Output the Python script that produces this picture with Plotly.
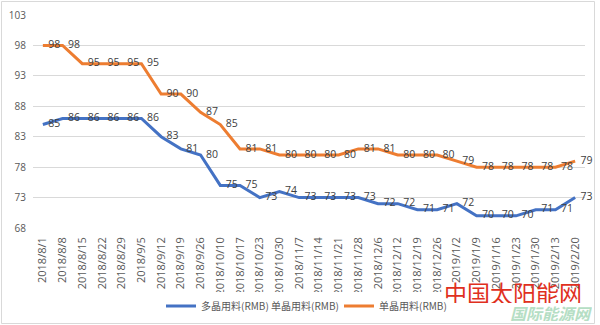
import plotly.graph_objects as go

# Weekly dates (category axis)
dates = [
    "2018/8/1", "2018/8/8", "2018/8/15", "2018/8/22", "2018/8/29", "2018/9/5",
    "2018/9/12", "2018/9/19", "2018/9/26", "2018/10/10", "2018/10/17", "2018/10/23",
    "2018/10/30", "2018/11/7", "2018/11/14", "2018/11/21", "2018/11/28", "2018/12/6",
    "2018/12/12", "2018/12/19", "2018/12/26", "2019/1/2", "2019/1/9", "2019/1/16",
    "2019/1/23", "2019/1/30", "2019/2/13", "2019/2/20",
]

# Prices in RMB
poly_price = [85, 86, 86, 86, 86, 86, 83, 81, 80, 75, 75, 73, 74, 73, 73, 73, 73,
              72, 72, 71, 71, 72, 70, 70, 70, 71, 71, 73]
mono_price = [98, 98, 95, 95, 95, 95, 90, 90, 87, 85, 81, 81, 80, 80, 80, 80, 81,
              81, 80, 80, 80, 79, 78, 78, 78, 78, 78, 79]

series_names = ["多晶用料(RMB) 单晶用料(RMB)", "单晶用料(RMB)"]
y_ticks = [68, 73, 78, 83, 88, 93, 98, 103]

BLUE = "#4472C4"
ORANGE = "#ED7D31"
GREY = "#595959"
LABEL_FONT = dict(family="Open Sans, Noto Sans CJK SC, sans-serif", size=10.5, color="#404040")
PAD = "\u00a0\u00a0"  # gap between a point and its value label

W, H = 600, 325
L, R, T, B = 33, 15, 15, 97
pw, ph = W - L - R, H - T - B


def xp(px):
    """Pixel column -> paper x."""
    return (px - L) / pw


def yp(py):
    """Pixel row -> paper y."""
    return (H - B - py) / ph


x_idx = list(range(len(dates)))

fig = go.Figure()
for name, vals, color, leg in [(series_names[0], poly_price, BLUE, "legend"),
                               (series_names[1], mono_price, ORANGE, "legend2")]:
    fig.add_trace(go.Scatter(
        x=x_idx, y=vals, name=name, mode="lines+text", legend=leg,
        line=dict(color=color, width=3),
        text=[PAD + str(v) for v in vals], textposition="middle right",
        textfont=LABEL_FONT, cliponaxis=False,
    ))

legend_font = dict(family="Noto Sans CJK SC, sans-serif", size=10, color=GREY)
legend_y = (H - 306) / H  # container fraction

fig.update_layout(
    width=W, height=H,
    margin=dict(l=L, r=R, t=T, b=B, autoexpand=False),
    paper_bgcolor="white", plot_bgcolor="white",
    font=dict(family="Open Sans, Noto Sans CJK SC, sans-serif", color=GREY),
    showlegend=True,
    legend=dict(orientation="h", x=xp(161), xanchor="left",
                yref="container", y=legend_y, yanchor="middle",
                font=legend_font, itemwidth=30),
    legend2=dict(orientation="h", x=xp(339), xanchor="left",
                 yref="container", y=legend_y, yanchor="middle",
                 font=legend_font, itemwidth=30),
    xaxis=dict(
        range=[-0.5, len(dates) - 0.5],
        tickmode="array", tickvals=x_idx, ticktext=dates,
        tickangle=-90, tickfont=dict(size=11, color=GREY),
        ticklabelstandoff=6,
        showgrid=False, zeroline=False, showline=False, ticks="",
    ),
    yaxis=dict(
        range=[68, 103], tickmode="array", tickvals=y_ticks,
        tickfont=dict(size=10, color=GREY), ticklabelstandoff=6,
        showgrid=True, gridcolor="#D9D9D9", gridwidth=1,
        zeroline=False, showline=False, ticks="",
    ),
)

# Thin frame around the whole chart
fig.add_shape(type="rect", xref="paper", yref="paper",
              x0=xp(1.5), x1=xp(594.5), y0=yp(323.5), y1=yp(1.5),
              line=dict(color="#D9D9D9", width=1), layer="below")

# Site marks in the lower-right corner
fig.add_annotation(text="<i><b>国际能源网</b></i>", xref="paper", yref="paper",
                   x=xp(551), y=yp(313), xanchor="center", yanchor="middle",
                   showarrow=False, height=16,
                   font=dict(family="Noto Sans CJK SC, sans-serif", size=16, color="#B5DEC4"))
fig.add_annotation(text="中国太阳能网", xref="paper", yref="paper",
                   x=xp(513), y=yp(292), xanchor="center", yanchor="middle",
                   showarrow=False, height=22,
                   font=dict(family="Noto Sans CJK SC, sans-serif", size=23, color="#E0301E"))

fig.write_html("out.html")
